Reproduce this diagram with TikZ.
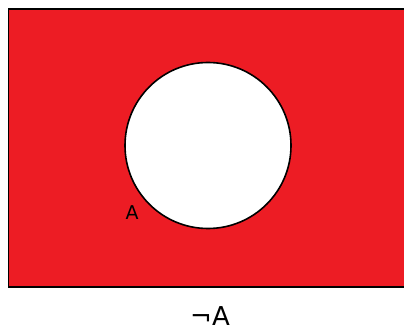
\documentclass[tikz,border=0pt]{standalone}
\usepackage{fontspec}
\setmainfont{DejaVu Sans}
\definecolor{vennred}{HTML}{ED1C24}
\begin{document}
\begin{tikzpicture}[x=1pt,y=-1pt,
  setbox/.style={fill=vennred,draw=black,line width=1.6pt},
  setcirc/.style={fill=white,draw=black,line width=1.6pt},
  lbl/.style={inner sep=0pt,font=\fontsize{19}{21}\selectfont}]
\useasboundingbox (0,0) rectangle (404,331);
\fill[white] (0,0) rectangle (404,331);
\draw[setbox] (8.5,9) -- (410,9) -- (410,287) -- (8.5,287) -- cycle;
\node[setcirc,circle,minimum size=166pt,inner sep=0pt] (A) at (208,145.5) {};
\node[lbl] (al) at (132,213) {A};
\node[inner sep=0pt,font=\fontsize{26}{28}\selectfont,anchor=base] (notA) at (210,325.5) {¬A};
\end{tikzpicture}
\end{document}
